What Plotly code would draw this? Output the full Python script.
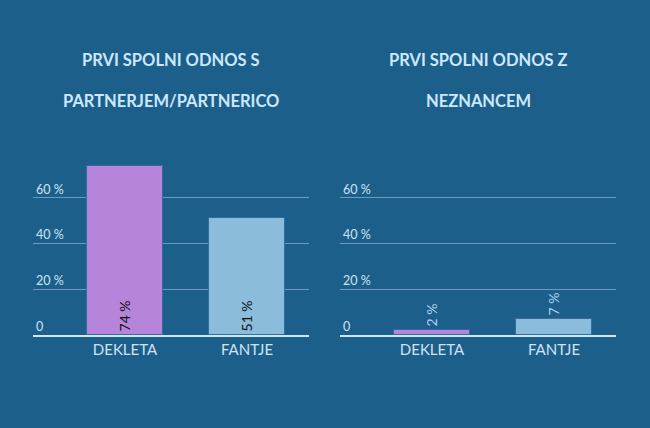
import plotly.graph_objects as go

categories = ["DEKLETA", "FANTJE"]
values_partner = [74, 51]
values_stranger = [2, 7]
labels_partner = ["74 %", "51 %"]
labels_stranger = ["2 %", "7 %"]
title_left = ["PRVI SPOLNI ODNOS S", "PARTNERJEM/PARTNERICO"]
title_right = ["PRVI SPOLNI ODNOS Z", "NEZNANCEM"]
tick_vals = [0, 20, 40, 60]
tick_text = ["0", "20 %", "40 %", "60 %"]

bar_colors = ["#b784dc", "#8bbcdc"]
BG = "#1c5f8b"
W, H = 650, 428

fig = go.Figure()
fig.add_trace(go.Bar(
    x=categories, y=values_partner, text=labels_partner,
    textposition="inside", insidetextanchor="start", textangle=-90,
    textfont=dict(family="Lato", size=14, color="#111111"),
    marker=dict(color=bar_colors, line=dict(color="#2e6f9e", width=1)),
    width=0.623, xaxis="x", yaxis="y", cliponaxis=False, hoverinfo="skip",
))
fig.add_trace(go.Bar(
    x=categories, y=values_stranger, text=labels_stranger,
    textposition="outside", textangle=-90,
    textfont=dict(family="Lato", size=14, color="#a9d3f2"),
    marker=dict(color=bar_colors, line=dict(color="#2e6f9e", width=1)),
    width=0.623, xaxis="x2", yaxis="y2", cliponaxis=False, hoverinfo="skip",
))

def px_x(p):
    return p / W

def px_y(p):
    return (H - p) / H

yrange = [0, 76.6]
ydom = [px_y(335), px_y(160)]
xr = [-0.754, 1.508]

common_y = dict(
    range=yrange, domain=ydom, tickvals=tick_vals, ticktext=tick_text,
    ticklabelposition="inside top", showgrid=True, gridcolor="#6a9cc4", gridwidth=1,
    zeroline=False, showline=False, ticks="",
    tickfont=dict(family="Lato", size=12.5, color="#cfe3f5"),
)
common_x = dict(
    range=xr, showline=True, linecolor="#cfe8f8", linewidth=2, ticks="",
    showgrid=False, zeroline=False,
    tickfont=dict(family="Lato", size=15, color="#cfe3f5"),
)

fig.update_layout(
    width=W, height=H, paper_bgcolor=BG, plot_bgcolor=BG,
    margin=dict(l=0, r=0, t=0, b=0), showlegend=False, bargap=0,
    xaxis=dict(domain=[px_x(33), px_x(309)], anchor="y", **common_x),
    yaxis=dict(anchor="x", **common_y),
    xaxis2=dict(domain=[px_x(340), px_x(616)], anchor="y2", **common_x),
    yaxis2=dict(anchor="x2", **common_y),
)

title_font = dict(family="Lato, sans-serif", size=16.5, color="#cce8fc")
for cx, lines in [((33 + 309) / 2, title_left), ((340 + 616) / 2, title_right)]:
    for yy, line in zip([60, 101], lines):
        fig.add_annotation(
            x=px_x(cx), y=px_y(yy), xref="paper", yref="paper",
            text="<b>" + line + "</b>", showarrow=False,
            xanchor="center", yanchor="middle", font=title_font,
        )

fig.write_html("out.html", config={"displayModeBar": False},
               post_script="document.body.style.margin='0';")
